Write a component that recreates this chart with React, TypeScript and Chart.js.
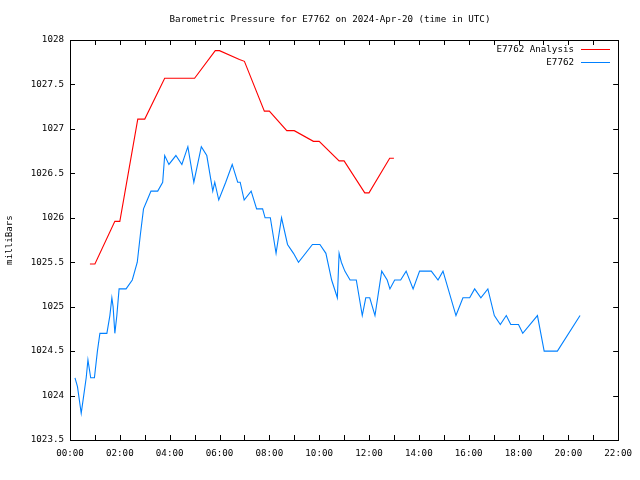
import React, { useEffect, useRef } from "react";
import { Chart, registerables } from "chart.js";

Chart.register(...registerables);

const TITLE = "Barometric Pressure for E7762 on 2024-Apr-20 (time in UTC)";
const Y_TITLE = "milliBars";
const SERIES_NAMES = ["E7762 Analysis", "E7762"];
const COLORS = ["#ff0000", "#0080ff"];

// hours (UTC) and pressure (mbar)
const analysisTimes = [0.8, 1.0, 1.8, 2.0, 2.72, 3.0, 3.8, 4.0, 4.8, 5.0, 5.83, 6.0, 6.8, 7.0, 7.8, 8.0, 8.7, 9.0, 9.77, 10.0, 10.8, 11.0, 11.83, 12.0, 12.83, 13.0];
const analysisValues = [1025.48, 1025.48, 1025.96, 1025.96, 1027.11, 1027.11, 1027.57, 1027.57, 1027.57, 1027.57, 1027.88, 1027.88, 1027.78, 1027.76, 1027.2, 1027.2, 1026.98, 1026.98, 1026.86, 1026.86, 1026.64, 1026.64, 1026.28, 1026.28, 1026.67, 1026.67];

const obsTimes = [0.2, 0.3, 0.45, 0.55, 0.65, 0.72, 0.83, 0.98, 1.1, 1.2, 1.48, 1.6, 1.68, 1.73, 1.8, 1.88, 1.97, 2.25, 2.5, 2.7, 2.82, 2.95, 3.1, 3.25, 3.52, 3.72, 3.8, 3.97, 4.25, 4.49, 4.73, 4.97, 5.27, 5.49, 5.73, 5.81, 5.97, 6.25, 6.51, 6.73, 6.83, 6.99, 7.27, 7.49, 7.73, 7.83, 8.04, 8.27, 8.49, 8.73, 8.97, 9.17, 9.73, 10.03, 10.27, 10.5, 10.73, 10.8, 10.89, 11.03, 11.24, 11.49, 11.73, 11.87, 12.03, 12.24, 12.51, 12.73, 12.84, 13.03, 13.27, 13.49, 13.77, 14.03, 14.5, 14.77, 14.97, 15.49, 15.77, 16.04, 16.24, 16.49, 16.77, 17.03, 17.27, 17.51, 17.69, 18.0, 18.17, 18.76, 19.03, 19.56, 20.47];
const obsValues = [1024.2, 1024.1, 1023.8, 1024.0, 1024.2, 1024.4, 1024.2, 1024.2, 1024.5, 1024.7, 1024.7, 1024.9, 1025.1, 1025.0, 1024.7, 1024.9, 1025.2, 1025.2, 1025.3, 1025.5, 1025.8, 1026.1, 1026.2, 1026.3, 1026.3, 1026.4, 1026.7, 1026.6, 1026.7, 1026.6, 1026.8, 1026.4, 1026.8, 1026.7, 1026.3, 1026.4, 1026.2, 1026.4, 1026.6, 1026.4, 1026.4, 1026.2, 1026.3, 1026.1, 1026.1, 1026.0, 1026.0, 1025.6, 1026.0, 1025.7, 1025.6, 1025.5, 1025.7, 1025.7, 1025.6, 1025.3, 1025.1, 1025.6, 1025.5, 1025.4, 1025.3, 1025.3, 1024.9, 1025.1, 1025.1, 1024.9, 1025.4, 1025.3, 1025.2, 1025.3, 1025.3, 1025.4, 1025.2, 1025.4, 1025.4, 1025.3, 1025.4, 1024.9, 1025.1, 1025.1, 1025.2, 1025.1, 1025.2, 1024.9, 1024.8, 1024.9, 1024.8, 1024.8, 1024.7, 1024.9, 1024.5, 1024.5, 1024.9];

const X_MIN = 0, X_MAX = 22, X_LABEL_STEP = 2, X_TICK_STEP = 1;
const Y_MIN = 1023.5, Y_MAX = 1028, Y_STEP = 0.5;

const FONT_SIZE = 9.2;
const FONT = FONT_SIZE + 'px "DejaVu Sans Mono"';

const decorPlugin = {
  id: "decor",
  afterDraw(chart: any) {
    const { ctx, chartArea } = chart;
    const { left, right, top, bottom } = chartArea;
    const xs = chart.scales.x;
    const ys = chart.scales.y;
    ctx.save();
    ctx.strokeStyle = "#000";
    ctx.lineWidth = 1;
    ctx.strokeRect(Math.round(left) + 0.5, Math.round(top) + 0.5, Math.round(right - left), Math.round(bottom - top));
    ctx.beginPath();
    for (let h = X_MIN; h <= X_MAX; h += X_TICK_STEP) {
      const px = Math.round(xs.getPixelForValue(h)) + 0.5;
      ctx.moveTo(px, bottom);
      ctx.lineTo(px, bottom - 5);
      ctx.moveTo(px, top);
      ctx.lineTo(px, top + 5);
    }
    for (let v = Y_MIN; v <= Y_MAX + 1e-9; v += Y_STEP) {
      const py = Math.round(ys.getPixelForValue(v)) + 0.5;
      ctx.moveTo(left, py);
      ctx.lineTo(left + 5, py);
      ctx.moveTo(right, py);
      ctx.lineTo(right - 5, py);
    }
    ctx.stroke();

    ctx.fillStyle = "#000";
    ctx.font = FONT;
    ctx.textBaseline = "middle";
    ctx.textAlign = "center";
    ctx.fillText(TITLE, 330, 19.5);

    // legend
    const legendY = [49.5, 62.5];
    SERIES_NAMES.forEach((name, i) => {
      ctx.textAlign = "right";
      ctx.fillStyle = "#000";
      ctx.fillText(name, 574, legendY[i]);
      ctx.strokeStyle = COLORS[i];
      ctx.beginPath();
      ctx.moveTo(581, legendY[i]);
      ctx.lineTo(610, legendY[i]);
      ctx.stroke();
    });
    ctx.restore();
  },
};

function fmtHour(v: number) {
  const h = Math.round(v);
  return (h < 10 ? "0" : "") + h + ":00";
}

export default function App() {
  const ref = useRef<HTMLCanvasElement>(null);
  useEffect(() => {
    if (!ref.current) return;
    const chart = new Chart(ref.current, {
      type: "line",
      data: {
        datasets: [
          {
            label: SERIES_NAMES[0],
            data: analysisTimes.map((t, i) => ({ x: t, y: analysisValues[i] })),
            borderColor: COLORS[0],
            borderWidth: 1.1,
            pointRadius: 0,
            tension: 0,
            fill: false,
          },
          {
            label: SERIES_NAMES[1],
            data: obsTimes.map((t, i) => ({ x: t, y: obsValues[i] })),
            borderColor: COLORS[1],
            borderWidth: 1.1,
            pointRadius: 0,
            tension: 0,
            fill: false,
          },
        ],
      },
      options: {
        animation: false,
        responsive: false,
        maintainAspectRatio: false,
        layout: { padding: { left: 0, top: 40, right: 20, bottom: 0 } },
        plugins: {
          legend: { display: false },
          title: { display: false },
          tooltip: { enabled: false },
        },
        scales: {
          x: {
            type: "linear",
            min: X_MIN,
            max: X_MAX,
            grid: { display: false, drawTicks: false },
            border: { display: false },
            ticks: {
              stepSize: X_LABEL_STEP,
              padding: 8,
              maxRotation: 0,
              autoSkip: false,
              color: "#000",
              font: { family: "DejaVu Sans Mono", size: FONT_SIZE },
              callback: (v: any) => fmtHour(Number(v)),
            },
            afterFit: (s: any) => {
              s.height = 40;
            },
          },
          y: {
            type: "linear",
            min: Y_MIN,
            max: Y_MAX,
            grid: { display: false, drawTicks: false },
            border: { display: false },
            title: {
              display: true,
              text: Y_TITLE,
              color: "#000",
              font: { family: "DejaVu Sans Mono", size: FONT_SIZE },
              padding: { top: 4, bottom: 0 },
            },
            ticks: {
              stepSize: Y_STEP,
              padding: 6,
              autoSkip: false,
              color: "#000",
              font: { family: "DejaVu Sans Mono", size: FONT_SIZE },
              callback: (v: any) => String(Number(Number(v).toFixed(1))),
            },
            afterFit: (s: any) => {
              s.width = 70;
            },
          },
        },
      },
      plugins: [decorPlugin],
    } as any);
    return () => chart.destroy();
  }, []);
  return (
    <div style={{ position: "fixed", left: 0, top: 0, width: 640, height: 480, background: "#fff" }}>
      <canvas ref={ref} width={640} height={480} style={{ width: 640, height: 480 }} />
    </div>
  );
}
